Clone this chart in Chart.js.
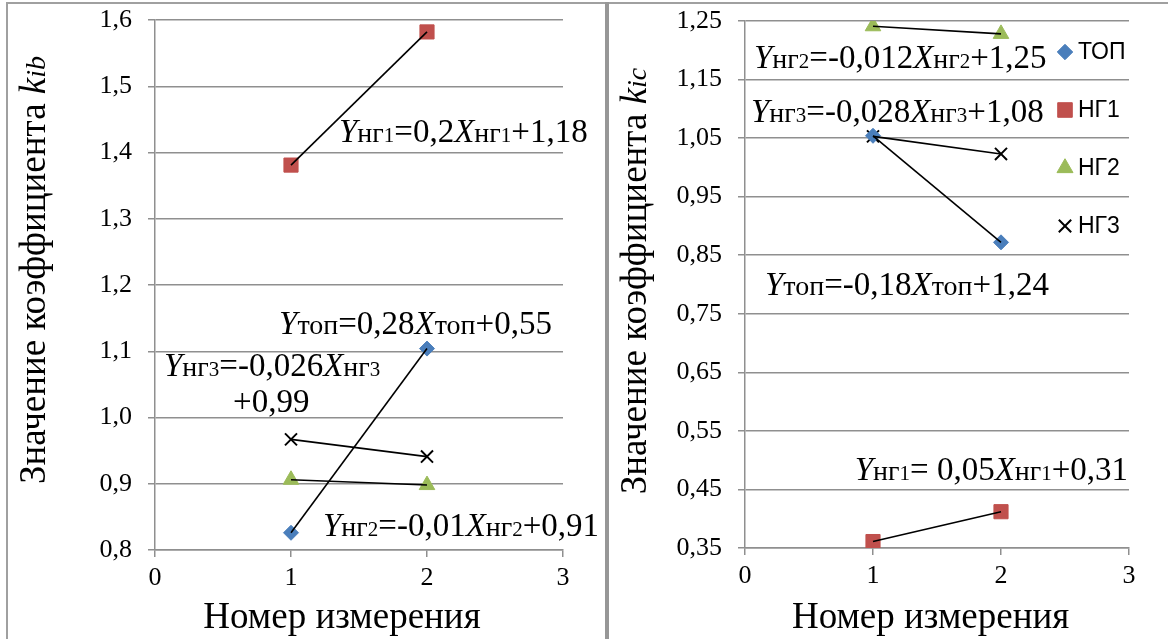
<!DOCTYPE html>
<html>
<head>
<meta charset="utf-8">
<script src="https://cdn.jsdelivr.net/npm/chart.js@4.4.1/dist/chart.umd.min.js"></script>
<style>
  html, body { margin:0; padding:0; background:#fff; width:1168px; height:639px; overflow:hidden; }
  #wrap { position:relative; width:1168px; height:639px; }
  .fr { position:absolute; background:#a0a0a0; }
  canvas { position:absolute; }
</style>
</head>
<body>
<div id="wrap">
  <div class="fr" style="left:6px;top:2px;width:1162px;height:2px;"></div>
  <div class="fr" style="left:6px;top:2px;width:2px;height:637px;"></div>
  <div class="fr" style="left:605px;top:2px;width:4px;height:637px;background:#979797;"></div>
  <canvas id="cL" width="597" height="635" style="left:8px;top:4px;"></canvas>
  <canvas id="cR" width="559" height="635" style="left:609px;top:4px;"></canvas>
</div>
<script>
// ---------- DATA ----------
const xValues = [1, 2];
const seriesNames = ['ТОП', 'НГ1', 'НГ2', 'НГ3'];

// left panel: k_ib
const kibTop = [0.826, 1.104];
const kibNg1 = [1.381, 1.582];
const kibNg2 = [0.906, 0.898];
const kibNg3 = [0.967, 0.941];

// right panel: k_ic
const kicTop = [1.054, 0.872];
const kicNg1 = [0.361, 0.412];
const kicNg2 = [1.241, 1.228];
const kicNg3 = [1.053, 1.023];

const xTicks = [0, 1, 2, 3];
const yTicksLeft = [0.8, 0.9, 1.0, 1.1, 1.2, 1.3, 1.4, 1.5, 1.6];
const yTicksRight = [0.35, 0.45, 0.55, 0.65, 0.75, 0.85, 0.95, 1.05, 1.15, 1.25];

const xTitle = 'Номер измерения';
const yTitleLeft = ['Значение коэффициента ', 'k', 'ib'];
const yTitleRight = ['Значение коэффициента ', 'k', 'ic'];

// equation labels (style prefix: i italic, n normal, s small text, d small digit)
const eqLeftText = [
  'iY|sнг|d1|n=0,2|iX|sнг|d1|n+1,18',
  'iY|sтоп|n=0,28|iX|sтоп|n+0,55',
  'iY|sнг|d3|n=-0,026|iX|sнг|d3',
  'n+0,99',
  'iY|sнг|d2|n=-0,01|iX|sнг|d2|n+0,91'
];
const eqRightText = [
  'iY|sнг|d2|n=-0,012|iX|sнг|d2|n+1,25',
  'iY|sнг|d3|n=-0,028|iX|sнг|d3|n+1,08',
  'iY|sтоп|n=-0,18|iX|sтоп|n+1,24',
  'iY|sнг|d1|n= 0,05|iX|sнг|d1|n+0,31'
];

// ---------- LAYOUT / STYLE ----------
const eqLeftPos = [[1.353, 1.416], [0.912, 1.126], [0.066, 1.063], [0.574, 1.008], [1.235, 0.821]];
const eqRightPos = [[0.070, 1.169], [0.047, 1.077], [0.156, 0.782], [0.857, 0.466]];

const SERIF = '"Liberation Serif", "Times New Roman", serif';
const SANS = '"Liberation Sans", Arial, sans-serif';
const GRID = '#8f8f8f';

const markerStyle = [
  { pointStyle: 'rectRot', radius: 7.5, fill: '#4a7ebb', stroke: '#4a7ebb', bw: 1 },
  { pointStyle: 'rect', radius: 10, fill: '#c0504d', stroke: '#c0504d', bw: 1 },
  { pointStyle: 'triangle', radius: 9, fill: '#9bbb59', stroke: '#9bbb59', bw: 1 },
  { pointStyle: 'crossRot', radius: 8.5, fill: '#000000', stroke: '#000000', bw: 2 }
];

const richStyles = {
  i: 'italic 33px ' + SERIF,
  n: '33px ' + SERIF,
  s: '28px ' + SERIF,
  d: '21px ' + SERIF
};

function drawRich(ctx, str, x, y) {
  ctx.save();
  ctx.fillStyle = '#000';
  ctx.textBaseline = 'alphabetic';
  ctx.textAlign = 'left';
  str.split('|').forEach(seg => {
    const st = seg[0], t = seg.slice(1);
    ctx.font = richStyles[st];
    ctx.fillText(t, x, y);
    x += ctx.measureText(t).width;
  });
  ctx.restore();
}

function pts(vals) { return xValues.map((x, i) => ({ x: x, y: vals[i] })); }

function makeDatasets(series) {
  const trends = series.map((vals) => ({
    data: pts(vals), showLine: true, borderColor: '#000', borderWidth: 1.6,
    pointRadius: 0, pointHoverRadius: 0, order: 0, isTrend: true
  }));
  const markers = series.map((vals, k) => ({
    label: seriesNames[k], data: pts(vals), showLine: false,
    pointStyle: markerStyle[k].pointStyle, pointRadius: markerStyle[k].radius,
    pointHoverRadius: markerStyle[k].radius,
    backgroundColor: markerStyle[k].fill, borderColor: markerStyle[k].stroke,
    pointBorderWidth: markerStyle[k].bw, order: 1
  }));
  return trends.concat(markers);
}

function overlayPlugin(cfg) {
  return {
    id: 'overlay',
    afterDraw(chart) {
      const ctx = chart.ctx, xs = chart.scales.x, ys = chart.scales.y;
      // equations
      cfg.eqText.forEach((s, i) => {
        drawRich(ctx, s, xs.getPixelForValue(cfg.eqPos[i][0]), ys.getPixelForValue(cfg.eqPos[i][1]));
      });
      // x title
      ctx.save();
      ctx.fillStyle = '#000';
      ctx.font = '37px ' + SERIF;
      ctx.textAlign = 'center';
      ctx.textBaseline = 'alphabetic';
      ctx.fillText(xTitle, xs.getPixelForValue(cfg.xTitleAt), cfg.xTitleBase);
      ctx.restore();
      // y title (rotated, mixed style)
      ctx.save();
      ctx.translate(cfg.yTitleX, cfg.yTitleY);
      ctx.rotate(-Math.PI / 2);
      ctx.fillStyle = '#000';
      ctx.textBaseline = 'middle';
      const f = ['37px ' + SERIF, 'italic 37px ' + SERIF, 'italic 28px ' + SERIF];
      let w = 0;
      cfg.yTitle.forEach((t, i) => { ctx.font = f[i]; w += ctx.measureText(t).width; });
      let px = -w / 2;
      cfg.yTitle.forEach((t, i) => {
        ctx.font = f[i];
        ctx.fillText(t, px, i === 2 ? 3 : 0);
        px += ctx.measureText(t).width;
      });
      ctx.restore();
      // legend
      if (cfg.legend) {
        ctx.save();
        chart.data.datasets.filter(d => !d.isTrend).forEach((d, k) => {
          const L = cfg.legend;
          const y = L.y0 + k * L.dy;
          const m = markerStyle[k];
          ctx.fillStyle = m.fill; ctx.strokeStyle = m.stroke;
          ctx.lineWidth = m.bw;
          Chart.helpers.drawPoint(ctx, { pointStyle: m.pointStyle, radius: m.radius * 1.03, rotation: 0, borderWidth: m.bw }, L.x, y);
          ctx.fillStyle = '#000';
          ctx.font = '23px ' + SANS;
          ctx.textAlign = 'left';
          ctx.textBaseline = 'middle';
          ctx.fillText(d.label, L.x + 13, y + 1);
        });
        ctx.restore();
      }
    }
  };
}

function makeChart(id, series, yTicks, yFmt, opts) {
  const fmtY = v => v.toFixed(yFmt).replace('.', ',');
  return new Chart(document.getElementById(id), {
    type: 'scatter',
    data: { datasets: makeDatasets(series) },
    options: {
      responsive: false, animation: false, devicePixelRatio: 1,
      layout: { padding: opts.padding },
      plugins: { legend: { display: false }, tooltip: { enabled: false } },
      scales: {
        x: {
          type: 'linear', min: xTicks[0], max: xTicks[xTicks.length - 1],
          afterBuildTicks: s => { s.ticks = xTicks.map(v => ({ value: v })); },
          afterFit: s => { s.height = opts.xH; },
          ticks: { font: { family: SERIF, size: 26 }, color: '#000', padding: 6, callback: v => String(v) },
          grid: { drawOnChartArea: false, drawTicks: true, tickLength: 7, color: GRID, lineWidth: 1.5 },
          border: { display: true, color: GRID, width: 1.5 }
        },
        y: {
          type: 'linear', min: yTicks[0], max: yTicks[yTicks.length - 1],
          afterBuildTicks: s => { s.ticks = yTicks.map(v => ({ value: v })); },
          afterFit: s => { s.width = opts.yW; s.paddingTop = 0; s.paddingBottom = 0; },
          ticks: { font: { family: SERIF, size: 26 }, color: '#000', padding: 16, callback: v => fmtY(v) },
          grid: { drawTicks: true, tickLength: 7, color: GRID, lineWidth: 1.5 },
          border: { display: true, color: GRID, width: 1.5 }
        }
      }
    },
    plugins: [overlayPlugin(opts.overlay)]
  });
}

makeChart('cL', [kibTop, kibNg1, kibNg2, kibNg3], yTicksLeft, 1, {
  padding: { left: 0, right: 42, top: 16, bottom: 0 }, yW: 147, xH: 89,
  overlay: { eqText: eqLeftText, eqPos: eqLeftPos, xTitleAt: 1.375, xTitleBase: 624,
             yTitle: yTitleLeft, yTitleX: 27, yTitleY: 266, legend: null }
});

makeChart('cR', [kicTop, kicNg1, kicNg2, kicNg3], yTicksRight, 2, {
  padding: { left: 0, right: 39, top: 17, bottom: 0 }, yW: 136, xH: 91,
  overlay: { eqText: eqRightText, eqPos: eqRightPos, xTitleAt: 1.45, xTitleBase: 624,
             yTitle: yTitleRight, yTitleX: 27, yTitleY: 277,
             legend: { x: 456, y0: 48, dy: 58 } }
});
</script>
</body>
</html>
